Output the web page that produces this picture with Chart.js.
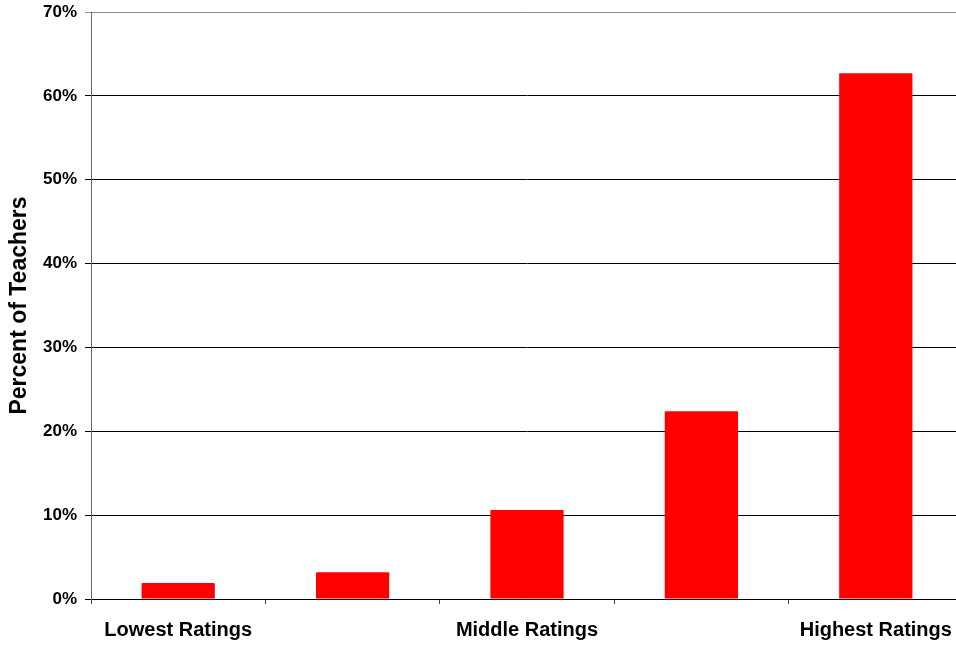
<!DOCTYPE html>
<html>
<head>
<meta charset="utf-8">
<script src="https://cdn.jsdelivr.net/npm/chart.js@4"></script>
<style>
  html, body { margin: 0; padding: 0; background: #fff; overflow: hidden; }
  #wrap { width: 956px; height: 645px; overflow: hidden; }
</style>
</head>
<body>
<div id="wrap">
  <canvas id="grafico" width="964" height="645"></canvas>
</div>
<script>
// rating groups (only every other one gets a label)
const categorias = ['Lowest Ratings', '', 'Middle Ratings', '', 'Highest Ratings'];
const percentuais = [1.9, 3.2, 10.6, 22.4, 62.7];
const ticksY = [0, 10, 20, 30, 40, 50, 60, 70];

const fonte = '"Liberation Sans", Arial, sans-serif';

const grafico = document.getElementById('grafico');

new Chart(grafico, {
    type: 'bar',
    data: {
        labels: categorias,
        datasets: [{
            label: 'Percent of Teachers',
            backgroundColor: '#ff0000',
            borderWidth: 0,
            borderRadius: 1,
            barPercentage: 0.42,
            categoryPercentage: 1,
            data: percentuais
        }]
    },
    options: {
        responsive: false,
        animation: false,
        layout: {
            padding: { top: 12, right: 1, left: 0, bottom: 0 }
        },
        plugins: {
            legend: { display: false },
            tooltip: { enabled: false }
        },
        scales: {
            x: {
                offset: true,
                grid: {
                    offset: true,
                    drawOnChartArea: false,
                    tickLength: 5,
                    color: '#444'
                },
                border: { color: '#000' },
                ticks: {
                    color: '#000',
                    autoSkip: false,
                    maxRotation: 0,
                    padding: 14,
                    font: { family: fonte, size: 20, weight: 'bold' }
                },
                afterFit: function (escala) {
                    escala.height = 46;
                    escala.paddingLeft = 0;
                    escala.paddingRight = 0;
                }
            },
            y: {
                min: 0,
                max: 70,
                afterBuildTicks: function (escala) {
                    escala.ticks = ticksY.map(function (v) { return { value: v }; });
                },
                grid: {
                    tickLength: 6,
                    color: function (ctx) {
                        return ctx.tick && ctx.tick.value === 70 ? '#8c8c8c' : '#000';
                    }
                },
                border: { color: '#666' },
                ticks: {
                    color: '#000',
                    padding: 8,
                    font: { family: fonte, size: 17, weight: 'bold' },
                    callback: function (v) { return v + '%'; }
                },
                title: {
                    display: true,
                    text: 'Percent of Teachers',
                    color: '#000',
                    padding: { top: 6, bottom: 0 },
                    font: { family: fonte, size: 23, weight: 'bold' }
                },
                afterFit: function (escala) {
                    escala.width = 91;
                    escala.paddingTop = 0;
                    escala.paddingBottom = 0;
                }
            }
        }
    }
});
</script>
</body>
</html>
